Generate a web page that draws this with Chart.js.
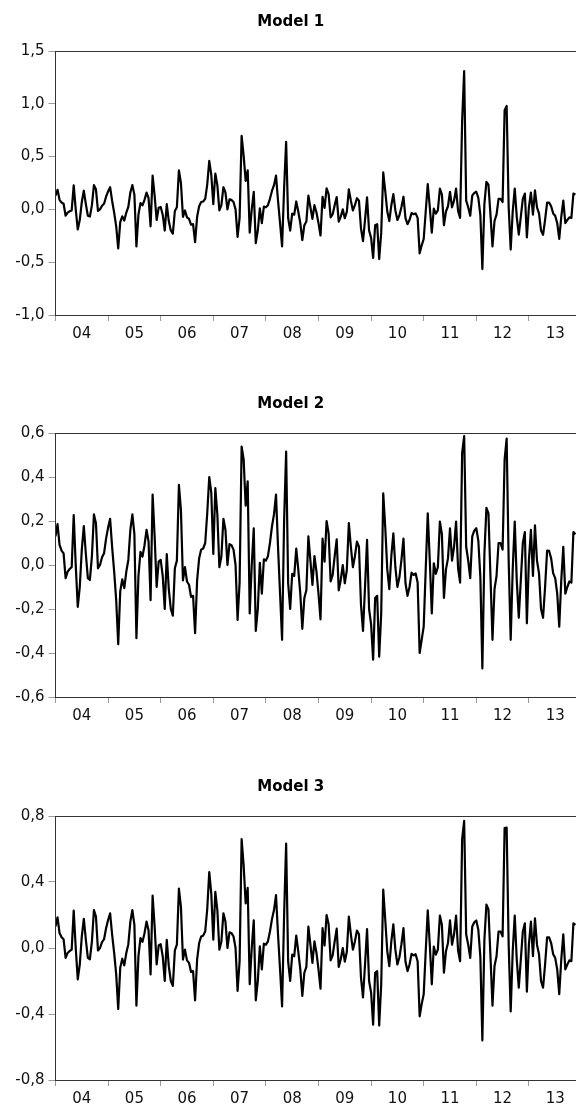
<!DOCTYPE html>
<html>
<head>
<meta charset="utf-8">
<script src="https://cdn.jsdelivr.net/npm/chart.js@4/dist/chart.umd.min.js"></script>
<style>
  html, body { margin: 0; padding: 0; background: #fff; overflow: hidden; width: 576px; height: 1112px; }
  .panel { position: absolute; left: 0; width: 640px; height: 345px; }
  .panel canvas { display: block; }
</style>
</head>
<body>
<div class="panel" style="top:0px"><canvas id="c1" width="640" height="345"></canvas></div>
<div class="panel" style="top:382px"><canvas id="c2" width="640" height="345"></canvas></div>
<div class="panel" style="top:765px"><canvas id="c3" width="640" height="345"></canvas></div>
<script>
// Residual series, sampled twice a month from the start of 2004
const START_YEAR = 2004;
const PER_YEAR = 26;
const YEAR_LABELS = ['04', '05', '06', '07', '08', '09', '10', '11', '12', '13'];

const model1 = [
  0.13, 0.186, 0.091, 0.065, 0.053, -0.06, -0.03, -0.018, -0.01, 0.227,
  0.0, -0.19, -0.1, 0.07, 0.177, 0.05, -0.06, -0.068, 0.04, 0.23,
  0.19, -0.015, 0.0, 0.035, 0.053, 0.12, 0.17, 0.21, 0.08, -0.03,
  -0.16, -0.37, -0.12, -0.065, -0.105, -0.03, 0.023, 0.16, 0.23, 0.14,
  -0.35, -0.05, 0.06, 0.038, 0.09, 0.16, 0.106, -0.16, 0.32, 0.13,
  -0.1, 0.015, 0.023, -0.05, -0.2, 0.05, -0.11, -0.2, -0.23, -0.015,
  0.02, 0.37, 0.25, -0.07, -0.01, -0.075, -0.09, -0.145, -0.14, -0.31,
  -0.07, 0.03, 0.07, 0.075, 0.1, 0.235, 0.46, 0.33, 0.05, 0.34,
  0.23, -0.01, 0.04, 0.21, 0.16, 0.0, 0.095, 0.09, 0.07, 0.0,
  -0.26, -0.08, 0.697, 0.51, 0.27, 0.37, -0.22, 0.0, 0.167, -0.32,
  -0.2, 0.01, -0.13, 0.026, 0.02, 0.04, 0.1, 0.175, 0.23, 0.32,
  0.08, -0.13, -0.35, 0.2, 0.64, -0.083, -0.2, -0.04, -0.05, 0.075,
  -0.02, -0.13, -0.29, -0.15, -0.115, 0.13, 0.02, -0.09, 0.04, -0.03,
  -0.13, -0.247, 0.12, 0.015, 0.2, 0.144, -0.075, -0.045, 0.04, 0.117,
  -0.115, -0.068, 0.0, -0.083, -0.023, 0.19, 0.083, -0.01, 0.04, 0.106,
  0.083, -0.18, -0.3, -0.1, 0.114, -0.2, -0.27, -0.46, -0.15, -0.14,
  -0.47, -0.22, 0.35, 0.17, -0.02, -0.11, 0.04, 0.144, -0.01, -0.1,
  -0.056, 0.023, 0.12, -0.083, -0.14, -0.1, -0.035, -0.045, -0.038, -0.08,
  -0.416, -0.34, -0.28, -0.02, 0.24, 0.023, -0.22, 0.008, -0.04, -0.01,
  0.197, 0.14, -0.15, -0.02, 0.03, 0.167, 0.02, 0.083, 0.197, -0.015,
  -0.08, 0.836, 1.31, 0.083, 0.02, -0.06, 0.13, 0.156, 0.167, 0.11,
  -0.053, -0.565, 0.05, 0.26, 0.235, -0.05, -0.35, -0.11, -0.05, 0.1,
  0.1, 0.07, 0.94, 0.98, 0.02, -0.38, -0.02, 0.197, -0.07, -0.24,
  -0.07, 0.1, 0.15, -0.265, 0.02, 0.16, -0.05, 0.18, 0.02, -0.038,
  -0.2, -0.24, -0.1, 0.065, 0.064, 0.03, -0.038, -0.06, -0.13, -0.28,
  -0.07, 0.083, -0.13, -0.1, -0.075, -0.08, 0.15, 0.14
];

const model2 = [
  0.13, 0.186, 0.091, 0.065, 0.053, -0.06, -0.03, -0.018, -0.01, 0.227,
  0.0, -0.19, -0.1, 0.07, 0.177, 0.05, -0.06, -0.068, 0.04, 0.23,
  0.19, -0.015, 0.0, 0.035, 0.053, 0.12, 0.17, 0.21, 0.08, -0.03,
  -0.16, -0.36, -0.12, -0.065, -0.105, -0.03, 0.023, 0.16, 0.23, 0.14,
  -0.333, -0.05, 0.06, 0.038, 0.09, 0.16, 0.106, -0.16, 0.32, 0.13,
  -0.1, 0.015, 0.023, -0.05, -0.2, 0.05, -0.11, -0.2, -0.23, -0.015,
  0.02, 0.364, 0.25, -0.07, -0.01, -0.075, -0.09, -0.145, -0.14, -0.31,
  -0.07, 0.03, 0.07, 0.075, 0.1, 0.235, 0.4, 0.33, 0.05, 0.35,
  0.23, -0.01, 0.04, 0.21, 0.16, 0.0, 0.095, 0.09, 0.07, 0.0,
  -0.25, -0.08, 0.538, 0.48, 0.27, 0.38, -0.22, 0.0, 0.167, -0.3,
  -0.2, 0.01, -0.13, 0.026, 0.02, 0.04, 0.1, 0.175, 0.23, 0.32,
  0.08, -0.13, -0.34, 0.2, 0.515, -0.083, -0.2, -0.04, -0.05, 0.075,
  -0.02, -0.13, -0.29, -0.15, -0.115, 0.13, 0.02, -0.09, 0.04, -0.03,
  -0.13, -0.247, 0.12, 0.015, 0.2, 0.144, -0.075, -0.045, 0.04, 0.117,
  -0.115, -0.068, 0.0, -0.083, -0.023, 0.19, 0.083, -0.01, 0.04, 0.106,
  0.083, -0.18, -0.3, -0.1, 0.114, -0.2, -0.27, -0.43, -0.15, -0.14,
  -0.417, -0.22, 0.326, 0.17, -0.02, -0.11, 0.04, 0.144, -0.01, -0.1,
  -0.056, 0.023, 0.12, -0.083, -0.14, -0.1, -0.035, -0.045, -0.038, -0.08,
  -0.4, -0.34, -0.28, -0.02, 0.235, 0.023, -0.22, 0.008, -0.04, -0.01,
  0.197, 0.14, -0.15, -0.02, 0.03, 0.167, 0.02, 0.083, 0.197, -0.015,
  -0.08, 0.508, 0.586, 0.083, 0.02, -0.06, 0.13, 0.156, 0.167, 0.11,
  -0.053, -0.47, 0.05, 0.26, 0.235, -0.05, -0.34, -0.11, -0.05, 0.1,
  0.1, 0.07, 0.48, 0.575, 0.02, -0.34, -0.02, 0.197, -0.07, -0.24,
  -0.07, 0.1, 0.15, -0.265, 0.02, 0.16, -0.05, 0.18, 0.02, -0.038,
  -0.2, -0.24, -0.1, 0.065, 0.064, 0.03, -0.038, -0.06, -0.13, -0.28,
  -0.07, 0.083, -0.13, -0.1, -0.075, -0.08, 0.15, 0.14
];

const model3 = [
  0.13, 0.186, 0.091, 0.065, 0.053, -0.06, -0.03, -0.018, -0.01, 0.227,
  0.0, -0.19, -0.1, 0.07, 0.177, 0.05, -0.06, -0.068, 0.04, 0.23,
  0.19, -0.015, 0.0, 0.035, 0.053, 0.12, 0.17, 0.21, 0.08, -0.03,
  -0.16, -0.37, -0.12, -0.065, -0.105, -0.03, 0.023, 0.16, 0.23, 0.14,
  -0.35, -0.05, 0.06, 0.038, 0.09, 0.16, 0.106, -0.16, 0.317, 0.13,
  -0.1, 0.015, 0.023, -0.05, -0.2, 0.05, -0.11, -0.2, -0.23, -0.015,
  0.02, 0.36, 0.25, -0.07, -0.01, -0.075, -0.09, -0.145, -0.14, -0.317,
  -0.07, 0.03, 0.07, 0.075, 0.1, 0.235, 0.46, 0.33, 0.05, 0.34,
  0.23, -0.01, 0.04, 0.21, 0.16, 0.0, 0.095, 0.09, 0.07, 0.0,
  -0.26, -0.08, 0.66, 0.5, 0.27, 0.364, -0.22, 0.0, 0.167, -0.317,
  -0.2, 0.01, -0.13, 0.026, 0.02, 0.04, 0.1, 0.175, 0.23, 0.32,
  0.08, -0.13, -0.354, 0.2, 0.632, -0.083, -0.2, -0.04, -0.05, 0.075,
  -0.02, -0.13, -0.29, -0.15, -0.115, 0.13, 0.02, -0.09, 0.04, -0.03,
  -0.13, -0.247, 0.12, 0.015, 0.2, 0.144, -0.075, -0.045, 0.04, 0.117,
  -0.115, -0.068, 0.0, -0.083, -0.023, 0.19, 0.083, -0.01, 0.04, 0.106,
  0.083, -0.18, -0.3, -0.1, 0.114, -0.2, -0.27, -0.465, -0.15, -0.14,
  -0.47, -0.22, 0.354, 0.17, -0.02, -0.11, 0.04, 0.144, -0.01, -0.1,
  -0.056, 0.023, 0.12, -0.083, -0.14, -0.1, -0.035, -0.045, -0.038, -0.08,
  -0.414, -0.34, -0.28, -0.02, 0.228, 0.023, -0.22, 0.008, -0.04, -0.01,
  0.197, 0.14, -0.15, -0.02, 0.03, 0.167, 0.02, 0.083, 0.197, -0.015,
  -0.08, 0.66, 0.77, 0.083, 0.02, -0.06, 0.13, 0.156, 0.167, 0.11,
  -0.053, -0.56, 0.05, 0.263, 0.235, -0.05, -0.35, -0.11, -0.05, 0.1,
  0.1, 0.07, 0.727, 0.73, 0.02, -0.384, -0.02, 0.197, -0.07, -0.24,
  -0.07, 0.1, 0.15, -0.265, 0.02, 0.16, -0.05, 0.18, 0.02, -0.038,
  -0.2, -0.24, -0.1, 0.065, 0.064, 0.03, -0.038, -0.06, -0.13, -0.28,
  -0.07, 0.083, -0.13, -0.1, -0.075, -0.08, 0.15, 0.14
];

const FONT = "'DejaVu Sans', 'Liberation Sans', Arial, sans-serif";

// Plot frame drawn around the chart area
const framePlugin = {
  id: 'frame',
  afterDraw(chart) {
    const { ctx, chartArea: a } = chart;
    const l = Math.floor(a.left) + 0.5, t = Math.floor(a.top) + 0.5;
    const r = Math.floor(a.right) + 0.5, b = Math.floor(a.bottom) + 0.5;
    ctx.save();
    ctx.strokeStyle = '#333';
    ctx.lineWidth = 1;
    ctx.strokeRect(l, t, r - l, b - t);
    ctx.restore();
  }
};

function fmtComma(v) {
  if (Math.abs(v) < 1e-9) return '0,0';
  return v.toFixed(1).replace('.', ',');
}

function makeChart(id, title, values, yMin, yMax, yStep) {
  const points = values.map((v, i) => ({ x: START_YEAR + i / PER_YEAR, y: v }));
  return new Chart(document.getElementById(id), {
    type: 'line',
    data: {
      datasets: [{
        data: points,
        borderColor: '#000',
        borderWidth: 2.2,
        borderJoinStyle: 'round',
        pointRadius: 0,
        tension: 0,
        fill: false
      }]
    },
    options: {
      responsive: false,
      animation: false,
      events: [],
      layout: { padding: { left: 0, right: 58.5, top: 0, bottom: 0 } },
      plugins: {
        legend: { display: false },
        tooltip: { enabled: false },
        title: {
          display: true,
          text: title,
          color: '#000',
          font: { family: FONT, size: 15, weight: 'bold' },
          padding: { top: 13.5, bottom: 19.5 }
        }
      },
      scales: {
        x: {
          type: 'linear',
          min: 2004,
          max: 2014,
          afterBuildTicks(scale) {
            const t = [];
            for (let y = 2004; y <= 2014; y++) {
              t.push({ value: y });
              if (y < 2014) t.push({ value: y + 0.5 });
            }
            scale.ticks = t;
          },
          afterFit(scale) { scale.height = 30; },
          border: { display: false },
          grid: {
            drawOnChartArea: false,
            drawTicks: true,
            tickLength: 6,
            lineWidth: 1,
            tickColor: (c) => (c.tick && Number.isInteger(c.tick.value)) ? '#9a9a9a' : 'rgba(0,0,0,0)'
          },
          ticks: {
            autoSkip: false,
            maxRotation: 0,
            minRotation: 0,
            padding: 4,
            color: '#111',
            font: { family: FONT, size: 15 },
            callback: (v) => Number.isInteger(v) ? '' : YEAR_LABELS[Math.floor(v) - START_YEAR]
          }
        },
        y: {
          min: yMin,
          max: yMax,
          afterFit(scale) { scale.width = 55.5; },
          border: { display: false },
          grid: {
            drawOnChartArea: false,
            drawTicks: true,
            tickLength: 7,
            tickColor: '#9a9a9a'
          },
          ticks: {
            stepSize: yStep,
            padding: 4,
            color: '#111',
            font: { family: FONT, size: 15 },
            callback: (v) => fmtComma(v)
          }
        }
      }
    },
    plugins: [framePlugin]
  });
}

makeChart('c1', 'Model 1', model1, -1.0, 1.5, 0.5);
makeChart('c2', 'Model 2', model2, -0.6, 0.6, 0.2);
makeChart('c3', 'Model 3', model3, -0.8, 0.8, 0.4);
</script>
</body>
</html>
